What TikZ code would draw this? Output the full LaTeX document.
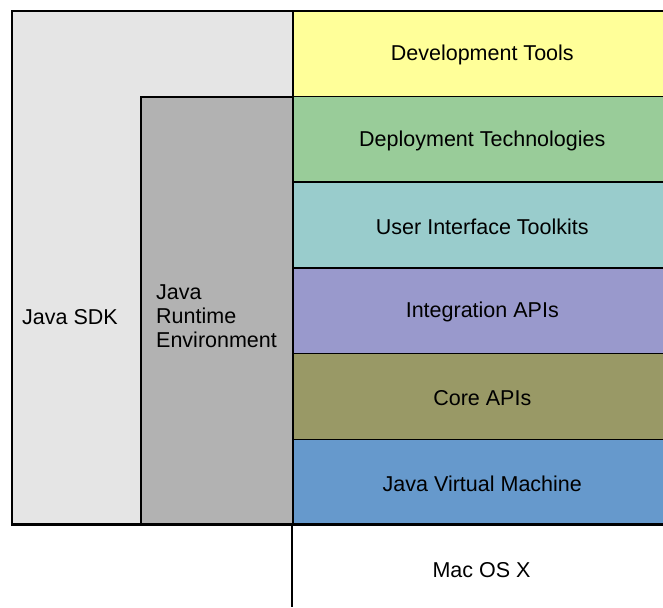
\documentclass[tikz,border=0pt]{standalone}
\usepackage{fontspec}
\setmainfont{Liberation Sans}
\definecolor{sdkc}{HTML}{E5E5E5}
\definecolor{jrec}{HTML}{B2B2B2}
\definecolor{devc}{HTML}{FFFF99}
\definecolor{depc}{HTML}{99CC99}
\definecolor{uic}{HTML}{99CCCC}
\definecolor{intc}{HTML}{9999CC}
\definecolor{corec}{HTML}{999966}
\definecolor{jvmc}{HTML}{6699CC}
\begin{document}
\begin{tikzpicture}[x=1pt,y=-1pt,
  box/.style={draw=black, line width=1.6pt, inner sep=0pt, anchor=north west},
  row/.style={box, minimum width=379pt, minimum height=85.7pt},
  lbl/.style={font=\fontsize{21.5}{24}\selectfont, inner sep=0pt}]
\useasboundingbox (0,0) rectangle (663,607);
\clip (0,0) rectangle (663,607);
\node[box, fill=sdkc, minimum width=281pt, minimum height=514pt] (sdk) at (11,10) {};
\node[box, fill=jrec, minimum width=152pt, minimum height=428pt] (jre) at (140,96) {};
\node[row, fill=devc] (dev) at (292,10) {};
\node[row, fill=depc] (dep) at (292,95.7) {};
\node[row, fill=uic] (ui) at (292,181.4) {};
\node[row, fill=intc] (int) at (292,267.1) {};
\node[row, fill=corec] (core) at (292,352.8) {};
\node[row, fill=jvmc] (jvm) at (292,438.5) {};
\coordinate (bl) at (11,524);
\coordinate (br) at (663,524);
\coordinate (vb) at (292,607);
\draw[line width=2.6pt] (bl) -- (br);
\draw[line width=1.6pt] (jvm.south west) -- (vb);
\node[lbl, anchor=west] (tsdk) at (22,317) {Java SDK};
\node[lbl, anchor=west, align=left] (tjre) at (156,316) {Java\\Runtime\\Environment};
\node[lbl, yshift=-1.5pt] (tdev) at (dev.center) {Development Tools};
\node[lbl, yshift=-1.5pt] (tdep) at (dep.center) {Deployment Technologies};
\node[lbl, yshift=-1.5pt] (tui) at (ui.center) {User Interface Toolkits};
\node[lbl, yshift=-1.5pt] (tint) at (int.center) {Integration APIs};
\node[lbl, yshift=-1.5pt] (tcore) at (core.center) {Core APIs};
\node[lbl, yshift=-1.5pt] (tjvm) at (jvm.center) {Java Virtual Machine};
\node[lbl] (tmac) at (481.5,570) {Mac OS X};
\end{tikzpicture}
\end{document}
